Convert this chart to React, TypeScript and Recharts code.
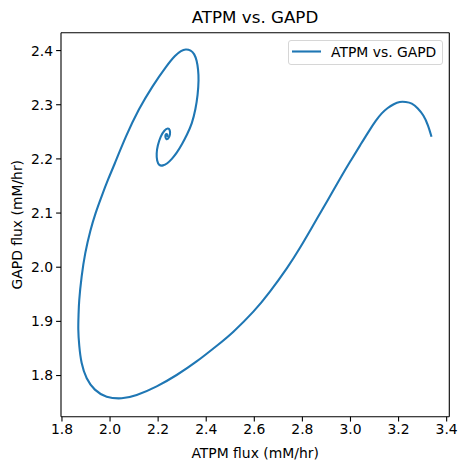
import React from 'react';
import { LineChart, Line, XAxis, YAxis, Label } from 'recharts';

// phase trajectory (right end -> spiral centre)
const atpmFlux = [
  3.337, 3.322, 3.303, 3.28, 3.255, 3.23, 3.205, 3.18, 3.155, 3.13, 3.105, 3.075,
  3.04, 3.0, 2.96, 2.92, 2.878, 2.839, 2.79, 2.735, 2.665, 2.596, 2.513, 2.444,
  2.36, 2.277, 2.194, 2.111, 2.048, 1.986, 1.937, 1.903, 1.882, 1.872, 1.868, 1.869,
  1.872, 1.882, 1.897, 1.918, 1.94, 1.965, 1.992, 2.02, 2.066, 2.12, 2.177, 2.233,
  2.27, 2.295, 2.315, 2.335, 2.35, 2.36, 2.366, 2.368, 2.364, 2.355, 2.34, 2.32,
  2.3, 2.278, 2.257, 2.238, 2.22, 2.205, 2.196, 2.194, 2.199, 2.211, 2.226, 2.24,
  2.248, 2.249, 2.242, 2.234, 2.23, 2.234, 2.238, 2.236,
];
const gapdFlux = [
  2.241, 2.262, 2.28, 2.293, 2.302, 2.305, 2.305, 2.301, 2.294, 2.284, 2.27, 2.25,
  2.225, 2.196, 2.166, 2.135, 2.103, 2.073, 2.036, 1.998, 1.955, 1.918, 1.881, 1.855,
  1.826, 1.801, 1.78, 1.764, 1.758, 1.761, 1.774, 1.795, 1.823, 1.855, 1.885, 1.912,
  1.94, 1.983, 2.026, 2.067, 2.1, 2.131, 2.162, 2.192, 2.241, 2.291, 2.334, 2.37,
  2.39, 2.399, 2.402, 2.4, 2.393, 2.381, 2.365, 2.345, 2.318, 2.292, 2.266, 2.245,
  2.228, 2.212, 2.2, 2.192, 2.188, 2.189, 2.197, 2.21, 2.225, 2.241, 2.252, 2.256,
  2.253, 2.245, 2.238, 2.237, 2.242, 2.246, 2.244, 2.241,
];

const xTicks = [1.8, 2.0, 2.2, 2.4, 2.6, 2.8, 3.0, 3.2, 3.4];
const yTicks = [1.8, 1.9, 2.0, 2.1, 2.2, 2.3, 2.4];
const xDomain = [1.796, 3.411];
const yDomain = [1.724, 2.433];

const data = atpmFlux.map((atpm, i) => ({ atpm, gapd: gapdFlux[i] }));

const FONT = '"DejaVu Sans", sans-serif';
const BLUE = '#1f77b4';
const tickStyle = { fill: '#000', fontSize: 13.9, fontFamily: FONT };
const spine = { stroke: '#000', strokeWidth: 1.1 };

export default function App() {
  return (
    <div style={{ position: 'absolute', left: 0, top: 0, width: 461, height: 470, background: '#fff', fontFamily: FONT }}>
      <div
        style={{
          position: 'absolute',
          left: 61,
          width: 388,
          top: 7,
          textAlign: 'center',
          fontSize: 16.7,
          lineHeight: '20px',
          color: '#000',
        }}
      >
        ATPM vs. GAPD
      </div>
      <LineChart
        width={461}
        height={470}
        data={data}
        margin={{ top: 31.7, right: 10.7, bottom: 0, left: 0 }}
      >
        <XAxis
          dataKey="atpm"
          type="number"
          domain={xDomain}
          allowDataOverflow
          ticks={xTicks}
          tickFormatter={(v) => v.toFixed(1)}
          height={53.3}
          tick={tickStyle}
          tickSize={4.9}
          tickMargin={3}
          tickLine={spine}
          axisLine={spine}
        >
          <Label
            content={({ viewBox }: any) => (
              <text
                x={viewBox.x + viewBox.width / 2}
                y={452.7}
                textAnchor="middle"
                dominantBaseline="central"
                fontSize={13.9}
                fontFamily={FONT}
                fill="#000"
              >
                ATPM flux (mM/hr)
              </text>
            )}
          />
        </XAxis>
        <YAxis
          type="number"
          domain={yDomain}
          allowDataOverflow
          ticks={yTicks}
          tickFormatter={(v) => v.toFixed(1)}
          width={61}
          tick={tickStyle}
          tickSize={4.9}
          tickMargin={3}
          tickLine={spine}
          axisLine={spine}
        >
          <Label
            content={({ viewBox }: any) => {
              const cy = viewBox.y + viewBox.height / 2;
              return (
                <text
                  x={17.5}
                  y={cy}
                  transform={`rotate(-90, 17.5, ${cy})`}
                  textAnchor="middle"
                  dominantBaseline="central"
                  fontSize={13.9}
                  fontFamily={FONT}
                  fill="#000"
                >
                  GAPD flux (mM/hr)
                </text>
              );
            }}
          />
        </YAxis>
        {/* top and right spines */}
        <XAxis
          xAxisId="top"
          dataKey="atpm"
          orientation="top"
          type="number"
          domain={xDomain}
          allowDataOverflow
          height={1}
          tick={false}
          tickLine={false}
          axisLine={spine}
        />
        <YAxis
          yAxisId="right"
          orientation="right"
          type="number"
          domain={yDomain}
          allowDataOverflow
          width={1}
          tick={false}
          tickLine={false}
          axisLine={spine}
        />
        <Line
          xAxisId="top"
          yAxisId="right"
          dataKey="gapd"
          stroke="none"
          dot={false}
          activeDot={false}
          legendType="none"
          isAnimationActive={false}
        />
        <Line
          type="natural"
          dataKey="gapd"
          name="ATPM vs. GAPD"
          stroke={BLUE}
          strokeWidth={2.1}
          dot={false}
          activeDot={false}
          isAnimationActive={false}
        />
      </LineChart>
      <div
        style={{
          position: 'absolute',
          left: 288,
          top: 40,
          width: 153,
          height: 23,
          border: '1px solid #d6d6d6',
          borderRadius: 3,
          background: 'rgba(255,255,255,0.8)',
        }}
      >
        <svg width={30} height={23} style={{ position: 'absolute', left: 3, top: 0 }}>
          <line x1={0} y1={10.5} x2={29} y2={10.5} stroke={BLUE} strokeWidth={2.1} />
        </svg>
        <span style={{ position: 'absolute', left: 42, top: 1, fontSize: 13.9, lineHeight: '20px', color: '#000', whiteSpace: 'nowrap' }}>
          ATPM vs. GAPD
        </span>
      </div>
    </div>
  );
}
